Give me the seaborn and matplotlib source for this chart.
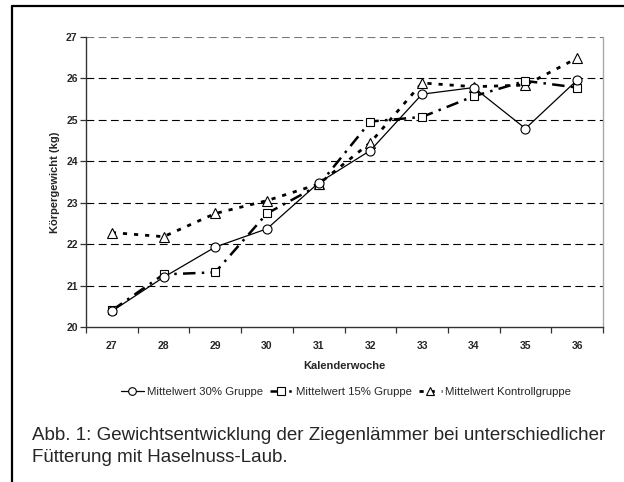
import matplotlib
matplotlib.use("Agg")
import matplotlib.pyplot as plt
import seaborn as sns
import pandas as pd
from matplotlib.lines import Line2D

# data
weeks = [27, 28, 29, 30, 31, 32, 33, 34, 35, 36]
gruppe_30 = [20.38, 21.2, 21.93, 22.37, 23.48, 24.26, 25.62, 25.78, 24.79, 25.96]
gruppe_15 = [20.4, 21.27, 21.32, 22.74, 23.42, 24.96, 25.07, 25.57, 25.94, 25.78]
kontrolle = [22.28, 22.18, 22.74, 23.05, 23.45, 24.45, 25.89, 25.8, 25.84, 26.49]
labels = ["Mittelwert 30% Gruppe", "Mittelwert 15% Gruppe", "Mittelwert Kontrollgruppe"]

sns.set_style("white")
plt.rcParams['font.family'] = ['Liberation Sans', 'DejaVu Sans']

fig = plt.figure(figsize=(6.24, 4.82), dpi=100)
ax = fig.add_axes([86 / 624, 1 - 327 / 482, 517 / 624, 290 / 482])

df = pd.DataFrame({"Woche": weeks, "g30": gruppe_30, "g15": gruppe_15, "kon": kontrolle})

# Kontrollgruppe: short thick dashes, triangles
sns.lineplot(data=df, x="Woche", y="kon", ax=ax, color="black", linewidth=2.0,
             linestyle=(0, (1.5, 2.5)), marker="^", markersize=6.5,
             markerfacecolor="white", markeredgecolor="black", markeredgewidth=0.8,
             label=labels[2])
# 15% group: long dash dot, squares
sns.lineplot(data=df, x="Woche", y="g15", ax=ax, color="black", linewidth=1.8,
             linestyle=(0, (5, 2.5, 1, 2.5)), marker="s", markersize=6,
             markerfacecolor="white", markeredgecolor="black", markeredgewidth=0.8,
             label=labels[1])
# 30% group: solid thin, circles
sns.lineplot(data=df, x="Woche", y="g30", ax=ax, color="black", linewidth=0.9,
             marker="o", markersize=6.5, markerfacecolor="white",
             markeredgecolor="black", markeredgewidth=0.8, label=labels[0])

ax.set_xlim(26.5, 36.5)
ax.set_ylim(20, 27)
ax.set_yticks(range(20, 28))
ax.set_xticks(weeks)
ax.set_xticks([w + 0.5 for w in [26] + weeks], minor=True)
ax.tick_params(axis="x", which="major", length=0, pad=10)
ax.tick_params(axis="x", which="minor", length=4, width=0.9, color="#333333", bottom=True)
ax.tick_params(axis="y", length=4, width=0.9, color="#333333", left=True, pad=2)
for lab in ax.get_xticklabels() + ax.get_yticklabels():
    lab.set_fontsize(7.5)
    lab.set_fontweight("bold")

for y in range(21, 27):
    ax.axhline(y, color="black", linewidth=0.8, linestyle=(0, (7, 4)), zorder=0)
ax.axhline(27, color="#777777", linewidth=0.8, linestyle=(0, (7, 4)), zorder=0)

for s in ["left", "bottom"]:
    ax.spines[s].set_color("#333333")
    ax.spines[s].set_linewidth(1.0)
ax.spines["right"].set_color("#aaaaaa")
ax.spines["right"].set_linewidth(1.0)
ax.spines["top"].set_visible(False)

ax.set_xlabel("Kalenderwoche", fontsize=8, fontweight="bold", labelpad=7)
ax.set_ylabel("Körpergewicht (kg)", fontsize=8, fontweight="bold", labelpad=4)

handles, labs = ax.get_legend_handles_labels()
order = [2, 1, 0]
ax.legend([handles[i] for i in order], [labs[i] for i in order],
          loc="center", bbox_to_anchor=(346 / 624, 1 - 392 / 482),
          bbox_transform=fig.transFigure, ncol=3, frameon=False, fontsize=8.2,
          handlelength=2.0, handletextpad=0.3, columnspacing=0.6, markerscale=0.85)

fig.text(32 / 624, 1 - 440 / 482,
         "Abb. 1: Gewichtsentwicklung der Ziegenlämmer bei unterschiedlicher",
         fontsize=13.5, va="baseline", ha="left")
fig.text(32 / 624, 1 - 462 / 482, "Fütterung mit Haselnuss-Laub.",
         fontsize=13.5, va="baseline", ha="left")

# outer frame (left and top edge visible)
fig.add_artist(Line2D([12 / 624, 12 / 624], [0, 1 - 6 / 482], color="black",
                      linewidth=1.6, transform=fig.transFigure))
fig.add_artist(Line2D([12 / 624, 1], [1 - 6 / 482, 1 - 6 / 482], color="black",
                      linewidth=1.6, transform=fig.transFigure))

fig.savefig("out.png", dpi=100)
